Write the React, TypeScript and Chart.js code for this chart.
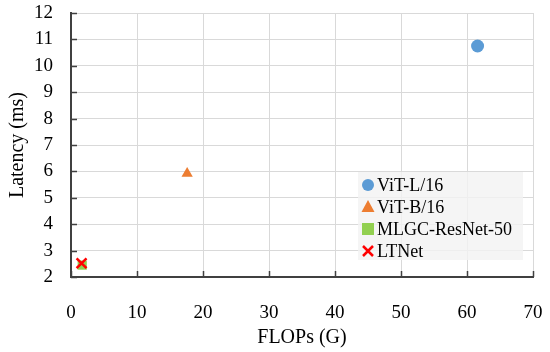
import React, { useEffect, useRef } from "react";
import { Chart, registerables } from "chart.js";

Chart.register(...registerables);

const seriesNames = ["ViT-L/16", "ViT-B/16", "MLGC-ResNet-50", "LTNet"];
const flops = [61.6, 17.6, 1.7, 1.6];
const latency = [10.75, 5.92, 2.45, 2.52];
const colors = ["#5B9BD5", "#ED7D31", "#92D050", "#FF0000"];
const styles = ["circle", "triangle", "rect", "crossRot"];
const xTicks = [0, 10, 20, 30, 40, 50, 60, 70];
const yTicks = [2, 3, 4, 5, 6, 7, 8, 9, 10, 11, 12];

const FONT = "'Liberation Serif', 'Times New Roman', serif";
const AXIS = "#404040";

const innerTicks = {
  id: "innerTicks",
  afterDatasetsDraw(chart: any) {
    const { ctx, chartArea } = chart;
    const xs = chart.scales.x;
    const ys = chart.scales.y;
    ctx.save();
    ctx.strokeStyle = AXIS;
    ctx.lineWidth = 1.5;
    ctx.beginPath();
    xTicks.forEach((v) => {
      const px = Math.round(xs.getPixelForValue(v)) + 0.5;
      ctx.moveTo(px, chartArea.bottom);
      ctx.lineTo(px, chartArea.bottom - 6);
    });
    yTicks.forEach((v) => {
      const py = Math.round(ys.getPixelForValue(v)) + 0.5;
      ctx.moveTo(chartArea.left, py);
      ctx.lineTo(chartArea.left + 6, py);
    });
    ctx.stroke();
    ctx.restore();
  },
};

const boxLegend = {
  id: "boxLegend",
  afterDraw(chart: any) {
    const { ctx, chartArea } = chart;
    const right = chartArea.right - 10;
    const bottom = chartArea.bottom - 17;
    const w = 165;
    const h = 88;
    const left = right - w;
    const top = bottom - h;
    ctx.save();
    ctx.fillStyle = "rgba(242,242,242,0.8)";
    ctx.fillRect(left, top, w, h);
    ctx.font = `18px ${FONT}`;
    ctx.textBaseline = "middle";
    ctx.textAlign = "left";
    seriesNames.forEach((name, i) => {
      const cy = top + 13 + i * 22;
      const cx = left + 10;
      ctx.fillStyle = colors[i];
      ctx.strokeStyle = colors[i];
      if (styles[i] === "circle") {
        ctx.beginPath();
        ctx.arc(cx, cy, 6, 0, Math.PI * 2);
        ctx.fill();
      } else if (styles[i] === "triangle") {
        ctx.beginPath();
        ctx.moveTo(cx, cy - 7);
        ctx.lineTo(cx + 6.5, cy + 5);
        ctx.lineTo(cx - 6.5, cy + 5);
        ctx.closePath();
        ctx.fill();
      } else if (styles[i] === "rect") {
        ctx.fillRect(cx - 6, cy - 6, 12, 12);
      } else {
        ctx.lineWidth = 2.5;
        ctx.beginPath();
        ctx.moveTo(cx - 5, cy - 5);
        ctx.lineTo(cx + 5, cy + 5);
        ctx.moveTo(cx + 5, cy - 5);
        ctx.lineTo(cx - 5, cy + 5);
        ctx.stroke();
      }
      ctx.fillStyle = "#000";
      ctx.fillText(name, cx + 9, cy + 1);
    });
    ctx.restore();
  },
};

const zeroPad = (s: any) => {
  s.paddingTop = 0;
  s.paddingBottom = 0;
  s.paddingLeft = 0;
  s.paddingRight = 0;
};

export default function App() {
  const ref = useRef<HTMLCanvasElement>(null);
  useEffect(() => {
    if (!ref.current) return;
    const chart = new Chart(ref.current, {
      type: "scatter",
      data: {
        datasets: seriesNames.map((name, i) => ({
          label: name,
          data: [{ x: flops[i], y: latency[i] }],
          pointStyle: styles[i] as any,
          backgroundColor: colors[i],
          borderColor: colors[i],
          borderWidth: styles[i] === "crossRot" ? 2.5 : 0,
          pointRadius: styles[i] === "crossRot" ? 7 : 6.5,
          order: seriesNames.length - i,
        })),
      },
      options: {
        animation: false,
        responsive: false,
        layout: { padding: { top: 13, right: 17, left: 0, bottom: 0 } },
        plugins: { legend: { display: false }, tooltip: { enabled: false } },
        scales: {
          x: {
            type: "linear",
            min: 0,
            max: 70,
            afterFit: (s: any) => { s.height = 75; zeroPad(s); },
            afterBuildTicks: (s: any) => { s.ticks = xTicks.map((v) => ({ value: v })); },
            ticks: { color: "#000", font: { family: FONT, size: 19 }, padding: 25, autoSkip: false, maxRotation: 0 },
            grid: { color: "#d9d9d9", lineWidth: 1, drawTicks: false },
            border: { color: AXIS, width: 2 },
            title: { display: true, text: "FLOPs (G)", color: "#000", font: { family: FONT, size: 20 }, padding: { top: 0, bottom: 2 } },
          },
          y: {
            type: "linear",
            min: 2,
            max: 12,
            afterFit: (s: any) => { s.width = 71; zeroPad(s); },
            afterBuildTicks: (s: any) => { s.ticks = yTicks.map((v) => ({ value: v })); },
            ticks: { color: "#000", font: { family: FONT, size: 19 }, padding: 18, autoSkip: false },
            grid: { color: "#d9d9d9", lineWidth: 1, drawTicks: false },
            border: { color: AXIS, width: 2 },
            title: { display: true, text: "Latency (ms)", color: "#000", font: { family: FONT, size: 20 }, padding: { top: 6, bottom: 0 } },
          },
        },
      },
      plugins: [innerTicks, boxLegend],
    });
    return () => chart.destroy();
  }, []);
  return (
    <div style={{ position: "fixed", left: 0, top: 0, width: 550, height: 352, background: "#fff" }}>
      <canvas ref={ref} width={550} height={352} />
    </div>
  );
}
